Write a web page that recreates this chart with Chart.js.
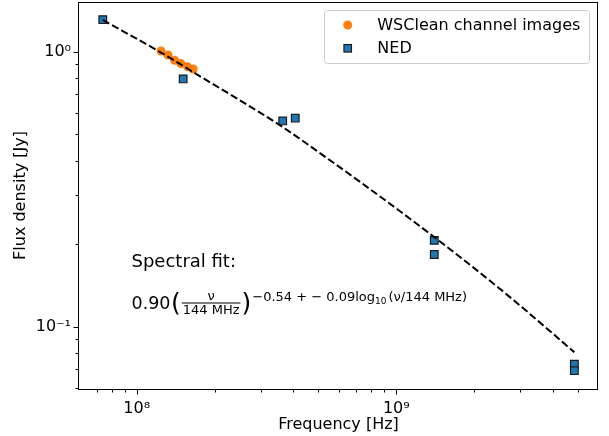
<!DOCTYPE html>
<html>
<head>
<meta charset="utf-8">
<script src="https://cdn.jsdelivr.net/npm/chart.js"></script>
<style>
  body { margin: 0; background: #fff; }
  canvas { display: block; }
</style>
</head>
<body>
<canvas id="c" width="609" height="436"></canvas>
<script>
// data
const wscFreq = [124e6, 132e6, 140e6, 148e6, 157e6, 165e6];
const wscFlux = [1.006, 0.973, 0.930, 0.905, 0.882, 0.865];

const nedFreq = [74e6, 151e6, 365e6, 408e6, 1.4e9, 1.4e9, 4.85e9, 4.85e9];
const nedFlux = [1.307, 0.796, 0.560, 0.573, 0.206, 0.183, 0.073, 0.0692];

// dashed spectral fit, sampled along the drawn curve
const fitFreq = [74e6, 123e6, 168e6, 365e6, 479e6, 1.135e9, 2.49e9, 3.85e9, 4.85e9];
const fitFlux = [1.304, 0.997, 0.834, 0.532, 0.445, 0.246, 0.138, 0.0975, 0.0807];

const xMajor = [1e8, 1e9];
const xMajorLabels = ["10\u2078", "10\u2079"];
const xMinor = [7e7, 8e7, 9e7, 2e8, 3e8, 4e8, 5e8, 6e8, 7e8, 8e8, 9e8, 2e9, 3e9, 4e9, 5e9];
const yMajor = [0.1, 1];
const yMajorLabels = ["10\u207B\u00B9", "10\u2070"];
const yMinor = [0.06, 0.07, 0.08, 0.09, 0.2, 0.3, 0.4, 0.5, 0.6, 0.7, 0.8, 0.9];

const FONT = "DejaVu Sans";
const ORANGE = "#ff7f0e";
const BLUE = "#1f77b4";
const EDGE = "#1a1a1a";
const AREA_TOP = 2;

Chart.defaults.font.family = FONT;
Chart.defaults.font.size = 16;
Chart.defaults.color = "#000";

function pts(xs, ys) {
  return xs.map((x, i) => ({ x: x, y: ys[i] }));
}

function drawSquare(c, x, y, s) {
  c.fillStyle = BLUE;
  c.fillRect(x - s / 2, y - s / 2, s, s);
  c.strokeStyle = EDGE;
  c.lineWidth = 1.2;
  c.strokeRect(x - s / 2, y - s / 2, s, s);
}

function drawFormula(c) {
  c.fillStyle = "#000";
  c.textBaseline = "alphabetic";
  c.textAlign = "left";
  c.font = "18px " + FONT;
  c.fillText("Spectral fit:", 131.5, 267);

  let x = 131.5;
  const base = 308.5;
  const bar = 302.5;
  c.font = "17.5px " + FONT;
  c.fillText("0.90", x, base);
  x += c.measureText("0.90").width + 0.5;
  c.font = "25px " + FONT;
  c.fillText("(", x, bar + 8.5);
  x += c.measureText("(").width;

  c.font = "13px " + FONT;
  const den = "144 MHz";
  const fw = c.measureText(den).width + 2;
  const fx = x + 1;
  c.textAlign = "center";
  c.fillText("\u03BD", fx + fw / 2, bar - 3);
  c.fillText(den, fx + fw / 2, bar + 11);
  c.fillRect(fx, bar, fw, 1);
  c.textAlign = "left";
  x = fx + fw + 1;

  c.font = "25px " + FONT;
  c.fillText(")", x, bar + 8.5);
  x += c.measureText(")").width + 1;

  const sb = 300.5;
  c.font = "13px " + FONT;
  const s1 = "\u22120.54 + \u2212 0.09log";
  c.fillText(s1, x, sb);
  x += c.measureText(s1).width;
  c.font = "9px " + FONT;
  c.fillText("10", x, sb + 3);
  x += c.measureText("10").width + 2;
  c.font = "13px " + FONT;
  c.fillText("(\u03BD/144 MHz)", x, sb);
}

// chart.js keeps a few px at the top, pull the plot area up to match
const fixTop = {
  id: "fixTop",
  afterLayout(chart) {
    const y = chart.scales.y;
    chart.chartArea.top = AREA_TOP;
    chart.chartArea.height = chart.chartArea.bottom - AREA_TOP;
    y.top = AREA_TOP;
    y.height = y.bottom - AREA_TOP;
    y.configure();
  },
};

const overlay = {
  id: "overlay",
  afterDraw(chart) {
    const c = chart.ctx;
    const a = chart.chartArea;
    const xs = chart.scales.x;
    const ys = chart.scales.y;
    c.save();
    c.strokeStyle = "#000";
    c.lineWidth = 1;
    c.beginPath();
    const bx = Math.round(a.bottom) + 0.5;
    const lx = Math.round(a.left) - 0.5;
    xMajor.forEach((v) => {
      const p = Math.round(xs.getPixelForValue(v)) + 0.5;
      c.moveTo(p, bx); c.lineTo(p, bx + 5);
    });
    xMinor.forEach((v) => {
      const p = Math.round(xs.getPixelForValue(v)) + 0.5;
      c.moveTo(p, bx); c.lineTo(p, bx + 3);
    });
    yMajor.forEach((v) => {
      const p = Math.round(ys.getPixelForValue(v)) + 0.5;
      c.moveTo(lx, p); c.lineTo(lx - 5, p);
    });
    yMinor.forEach((v) => {
      const p = Math.round(ys.getPixelForValue(v)) + 0.5;
      c.moveTo(lx, p); c.lineTo(lx - 3, p);
    });
    c.stroke();
    c.strokeRect(lx, Math.round(a.top) + 0.5, Math.round(a.right) - lx - 0.5, bx - Math.round(a.top) - 0.5);

    // legend
    const L = 324.5, T = 10.5, W = 265, H = 53, r = 3;
    c.beginPath();
    c.moveTo(L + r, T);
    c.lineTo(L + W - r, T); c.quadraticCurveTo(L + W, T, L + W, T + r);
    c.lineTo(L + W, T + H - r); c.quadraticCurveTo(L + W, T + H, L + W - r, T + H);
    c.lineTo(L + r, T + H); c.quadraticCurveTo(L, T + H, L, T + H - r);
    c.lineTo(L, T + r); c.quadraticCurveTo(L, T, L + r, T);
    c.closePath();
    c.fillStyle = "rgba(255,255,255,0.8)";
    c.fill();
    c.strokeStyle = "#cccccc";
    c.lineWidth = 1;
    c.stroke();

    c.fillStyle = ORANGE;
    c.beginPath();
    c.arc(347.7, 25, 4.5, 0, Math.PI * 2);
    c.fill();
    drawSquare(c, 347.7, 48.3, 7.5);

    c.fillStyle = "#000";
    c.font = "16px " + FONT;
    c.textBaseline = "middle";
    c.textAlign = "left";
    c.fillText("WSClean channel images", 377.3, 25.5);
    c.fillText("NED", 377.3, 48.8);

    drawFormula(c);
    c.restore();
  },
};

new Chart(document.getElementById("c"), {
  type: "scatter",
  data: {
    datasets: [
      {
        label: "fit",
        type: "line",
        data: pts(fitFreq, fitFlux),
        borderColor: "#000",
        borderWidth: 2,
        borderDash: [7.4, 3.2],
        pointRadius: 0,
        fill: false,
        cubicInterpolationMode: "monotone",
      },
      {
        label: "NED",
        data: pts(nedFreq, nedFlux),
        pointStyle: "rect",
        pointRadius: 5.4,
        backgroundColor: BLUE,
        borderColor: EDGE,
        borderWidth: 1.2,
      },
      {
        label: "WSClean channel images",
        data: pts(wscFreq, wscFlux),
        pointRadius: 4.5,
        backgroundColor: ORANGE,
        borderColor: ORANGE,
        borderWidth: 0,
      },
    ],
  },
  options: {
    responsive: false,
    animation: false,
    layout: { padding: { top: 2, right: 11, left: 0, bottom: 0 } },
    plugins: { legend: { display: false }, tooltip: { enabled: false } },
    scales: {
      x: {
        type: "logarithmic",
        min: 5.993e7,
        max: 5.982e9,
        grid: { display: false },
        border: { display: false },
        afterBuildTicks: (s) => { s.ticks = xMajor.map((v) => ({ value: v })); },
        afterFit: (s) => { s.height = 47; s.paddingLeft = 0; s.paddingRight = 0; },
        ticks: {
          autoSkip: false,
          maxRotation: 0,
          padding: 2,
          callback: (v, i) => xMajorLabels[i],
        },
        title: { display: true, text: "Frequency [Hz]", padding: { top: 2, bottom: 2 } },
      },
      y: {
        type: "logarithmic",
        min: 0.05935,
        max: 1.5158,
        grid: { display: false },
        border: { display: false },
        afterBuildTicks: (s) => { s.ticks = yMajor.map((v) => ({ value: v })); },
        afterFit: (s) => { s.width = 79; s.paddingTop = 0; s.paddingBottom = 0; },
        ticks: {
          autoSkip: false,
          padding: 0,
          callback: (v, i) => yMajorLabels[i],
        },
        title: { display: true, text: "Flux density [Jy]", padding: { top: 11, bottom: 0 } },
      },
    },
  },
  plugins: [fixTop, overlay],
});
</script>
</body>
</html>
